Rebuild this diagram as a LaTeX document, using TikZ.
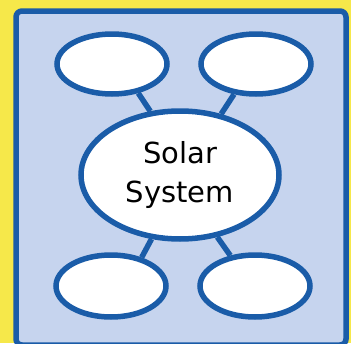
\documentclass[tikz,border=0pt]{standalone}
\usepackage{fontspec}
\setmainfont{DejaVu Sans}
\usetikzlibrary{shapes.geometric,backgrounds}
\definecolor{bgyellow}{HTML}{F6E84A}
\definecolor{boxfill}{HTML}{C6D4EE}
\definecolor{navy}{HTML}{1A5CA8}
\begin{document}
\begin{tikzpicture}[x=1pt,y=-1pt,
  bubble/.style={ellipse,draw=navy,line width=5.5pt,fill=white,inner sep=0pt},
  link/.style={draw=navy,line width=5.5pt}]
\useasboundingbox (0,0) rectangle (351,343);
\node[bubble,minimum width=110pt,minimum height=60pt] (tl) at (112,64) {};
\node[bubble,minimum width=110pt,minimum height=60pt] (tr) at (256,64) {};
\node[bubble,minimum width=110pt,minimum height=62pt] (bl) at (111,286) {};
\node[bubble,minimum width=110pt,minimum height=62pt] (br) at (255,286) {};
\node[bubble,minimum width=198pt,minimum height=128pt,align=center,font=\fontsize{29}{39}\selectfont] (c) at (180,175) {Solar\\System};
\begin{scope}[on background layer]
\fill[bgyellow] (0,0) rectangle (351,343);
\fill[boxfill,draw=navy,line width=5.5pt,rounded corners=6pt] (16,11) rectangle (346,345);
\draw[link] (tl.-48) -- (c.115);
\draw[link] (tr.-126) -- (c.56);
\draw[link] (bl.43) -- (c.-114);
\draw[link] (br.129) -- (c.-59);
\end{scope}
\end{tikzpicture}
\end{document}
